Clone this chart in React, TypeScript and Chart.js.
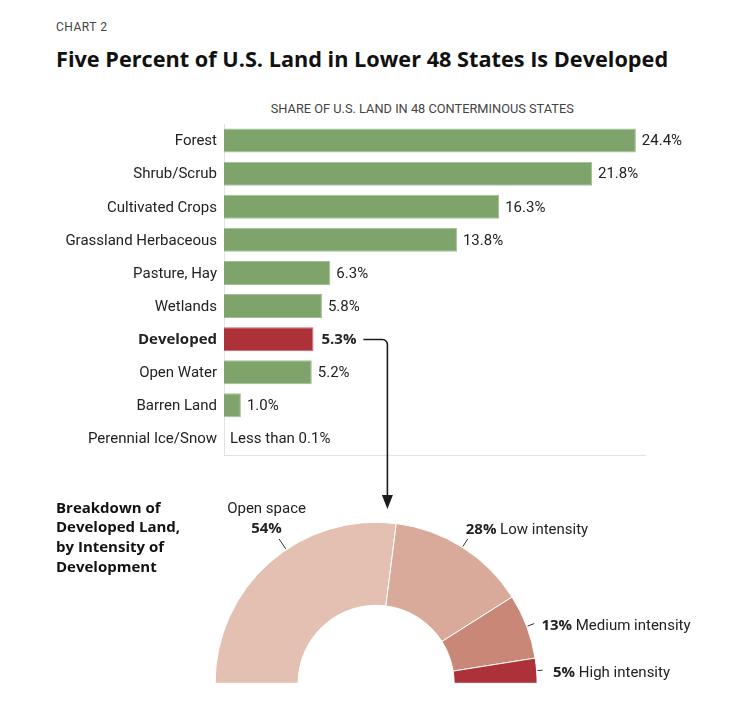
import React, { useEffect, useRef } from "react";
import { Chart, registerables } from "chart.js";

Chart.register(...registerables);

// ---------- data ----------
const categories = [
  "Forest",
  "Shrub/Scrub",
  "Cultivated Crops",
  "Grassland Herbaceous",
  "Pasture, Hay",
  "Wetlands",
  "Developed",
  "Open Water",
  "Barren Land",
  "Perennial Ice/Snow",
];
const shares = [24.4, 21.8, 16.3, 13.8, 6.3, 5.8, 5.3, 5.2, 1.0, 0];
const shareLabels = ["24.4%", "21.8%", "16.3%", "13.8%", "6.3%", "5.8%", "5.3%", "5.2%", "1.0%", "Less than 0.1%"];
const highlighted = "Developed";
const axisMax = 25;

const intensityNames = ["Open space", "Low intensity", "Medium intensity", "High intensity"];
const intensityShares = [54, 28, 13, 5];
const intensityLabels = ["54%", "28%", "13%", "5%"];

// ---------- styling / layout ----------
const FONT = "Roboto, 'Noto Sans', sans-serif";
const BOLD_FONT = "'Open Sans', Roboto, sans-serif";
const TEXT = "#222222";
const GREEN = "#7ea36b";
const GREEN_EDGE = "#a3bf93";
const RED = "#ad3139";
const RED_EDGE = "#c9666c";
const AXIS = "#e3e3e3";
const SLICE_COLORS = ["#e3c0b1", "#d9aa9a", "#c98777", "#ad3139"];

// leader lines: angle shift (deg, clockwise) from slice middle, length beyond the rim
const leaderShift = [7.5, 0, 0, 0];
const leaderLength = [13, 10, 8, 6];
// label anchor offsets from leader end (x, baseline y)
const labelOffsets: [number, number][] = [
  [-12.5, -5.6],
  [-2, -5.2],
  [7.2, 6.4],
  [10.4, 6.7],
];

const barAnnotations = {
  id: "barAnnotations",
  afterDatasetsDraw(chart: any) {
    const { ctx, chartArea } = chart;
    const meta = chart.getDatasetMeta(0);
    ctx.save();
    // bottom axis line
    ctx.strokeStyle = AXIS;
    ctx.lineWidth = 1;
    const by = Math.round(chartArea.bottom) + 0.5;
    ctx.beginPath();
    ctx.moveTo(chartArea.left, by);
    ctx.lineTo(chartArea.right, by);
    ctx.stroke();

    meta.data.forEach((el: any, i: number) => {
      const hi = categories[i] === highlighted;
      ctx.font = hi ? `bold 15px ${BOLD_FONT}` : `15px ${FONT}`;
      ctx.fillStyle = TEXT;
      ctx.textAlign = "left";
      ctx.textBaseline = "middle";
      const x = el.x + (hi ? 8 : 6);
      ctx.fillText(shareLabels[i], x, el.y + 1);
      if (hi) {
        const w = ctx.measureText(shareLabels[i]).width;
        const x0 = x + w + 7;
        const x1 = x0 + 24;
        const y0 = Math.round(el.y) + 0.5;
        const tipY = chartArea.bottom + 54;
        const r = 5;
        ctx.strokeStyle = "#1c1c1c";
        ctx.lineWidth = 1.6;
        ctx.beginPath();
        ctx.moveTo(x0, y0);
        ctx.arcTo(x1, y0, x1, y0 + r, r);
        ctx.lineTo(x1, tipY - 10);
        ctx.stroke();
        ctx.fillStyle = "#1c1c1c";
        ctx.beginPath();
        ctx.moveTo(x1 - 5.5, tipY - 14);
        ctx.lineTo(x1 + 5.5, tipY - 14);
        ctx.lineTo(x1, tipY);
        ctx.closePath();
        ctx.fill();
      }
    });
    ctx.restore();
  },
};

const pieAnnotations = {
  id: "pieAnnotations",
  afterDatasetsDraw(chart: any) {
    const { ctx } = chart;
    const meta = chart.getDatasetMeta(0);
    ctx.save();
    meta.data.forEach((arc: any, i: number) => {
      const { x, y, startAngle, endAngle, outerRadius } = arc.getProps(
        ["x", "y", "startAngle", "endAngle", "outerRadius"],
        true
      );
      const a = (startAngle + endAngle) / 2 + (leaderShift[i] * Math.PI) / 180;
      const r0 = outerRadius + 1;
      const r1 = outerRadius + leaderLength[i];
      const ox = x + Math.cos(a) * r1;
      const oy = y + Math.sin(a) * r1;
      ctx.strokeStyle = "#333333";
      ctx.lineWidth = 1;
      ctx.beginPath();
      ctx.moveTo(x + Math.cos(a) * r0, y + Math.sin(a) * r0);
      ctx.lineTo(ox, oy);
      ctx.stroke();

      const [dx, dy] = labelOffsets[i];
      ctx.fillStyle = TEXT;
      ctx.textBaseline = "alphabetic";
      if (i === 0) {
        ctx.textAlign = "center";
        ctx.font = `15px ${FONT}`;
        ctx.fillText(intensityNames[i], ox + dx, oy + dy - 20);
        ctx.font = `bold 15px ${BOLD_FONT}`;
        ctx.fillText(intensityLabels[i], ox + dx, oy + dy);
      } else {
        ctx.textAlign = "left";
        ctx.font = `bold 15px ${BOLD_FONT}`;
        const p = intensityLabels[i];
        ctx.fillText(p, ox + dx, oy + dy);
        const w = ctx.measureText(p).width;
        ctx.font = `15px ${FONT}`;
        ctx.fillText(" " + intensityNames[i], ox + dx + w, oy + dy);
      }
    });
    ctx.restore();
  },
};

export default function App() {
  const barRef = useRef<HTMLCanvasElement>(null);
  const pieRef = useRef<HTMLCanvasElement>(null);

  useEffect(() => {
    Chart.defaults.font.family = FONT;
    const bar = new Chart(barRef.current as HTMLCanvasElement, {
      type: "bar",
      data: {
        labels: categories,
        datasets: [
          {
            data: shares,
            backgroundColor: categories.map((c) => (c === highlighted ? RED : GREEN)),
            borderColor: categories.map((c) => (c === highlighted ? RED_EDGE : GREEN_EDGE)),
            borderWidth: shares.map((v) => (v > 0 ? 1 : 0)),
            borderSkipped: "start",
            categoryPercentage: 1,
            barPercentage: 0.725,
          },
        ],
      },
      options: {
        indexAxis: "y",
        responsive: false,
        animation: false,
        layout: { padding: { left: 8, right: 100, top: 24, bottom: 65 } },
        plugins: { legend: { display: false }, tooltip: { enabled: false } },
        scales: {
          x: { display: false, min: 0, max: axisMax },
          y: {
            grid: { display: false, drawTicks: false },
            border: { display: true, color: AXIS, width: 1 },
            ticks: {
              padding: 7,
              labelOffset: 1,
              color: TEXT,
              font: (c: any) =>
                categories[c.index] === highlighted
                  ? { family: BOLD_FONT, size: 15, weight: "bold" }
                  : { family: FONT, size: 15, weight: "normal" },
            },
            afterFit: (s: any) => {
              s.width = 216;
            },
          },
        },
      } as any,
      plugins: [barAnnotations],
    });

    const pie = new Chart(pieRef.current as HTMLCanvasElement, {
      type: "doughnut",
      data: {
        labels: intensityNames,
        datasets: [
          {
            data: intensityShares,
            backgroundColor: SLICE_COLORS,
            borderColor: "#ffffff",
            borderWidth: 1,
          },
        ],
      },
      options: {
        responsive: false,
        animation: false,
        rotation: -90,
        circumference: 180,
        radius: 161,
        cutout: "48.45%",
        layout: { padding: { left: 100, right: 93.8, top: 40, bottom: 20.4 } },
        plugins: { legend: { display: false }, tooltip: { enabled: false } },
      } as any,
      plugins: [pieAnnotations],
    });

    return () => {
      bar.destroy();
      pie.destroy();
    };
  }, []);

  const abs = (left: number, top: number, extra: React.CSSProperties = {}): React.CSSProperties => ({
    position: "absolute",
    left,
    top,
    whiteSpace: "nowrap",
    ...extra,
  });

  return (
    <div
      style={{
        position: "absolute",
        left: 0,
        top: 0,
        width: 746,
        height: 706,
        overflow: "hidden",
        background: "#ffffff",
        fontFamily: FONT,
        color: TEXT,
      }}
    >
      <div style={abs(56, 20.6, { fontSize: 12, lineHeight: "12px", letterSpacing: 0.5, color: "#444" })}>CHART 2</div>
      <div
        style={abs(56, 48, {
          fontSize: 21.7,
          lineHeight: "21.7px",
          fontWeight: 700,
          fontFamily: BOLD_FONT,
          color: "#111",
        })}
      >
        Five Percent of U.S. Land in Lower 48 States Is Developed
      </div>
      <div style={abs(270.7, 102.5, { fontSize: 12.8, lineHeight: "12.8px", color: "#444" })}>
        SHARE OF U.S. LAND IN 48 CONTERMINOUS STATES
      </div>
      <canvas
        ref={barRef}
        width={746}
        height={420}
        style={{ position: "absolute", left: 0, top: 100, width: 746, height: 420 }}
      />
      <canvas
        ref={pieRef}
        width={746}
        height={226}
        style={{ position: "absolute", left: 0, top: 480, width: 746, height: 226 }}
      />
      <div
        style={abs(56, 497.6, {
          fontSize: 15,
          lineHeight: "19.7px",
          fontWeight: 700,
          fontFamily: BOLD_FONT,
          color: "#111",
        })}
      >
        Breakdown of
        <br />
        Developed Land,
        <br />
        by Intensity of
        <br />
        Development
      </div>
    </div>
  );
}
